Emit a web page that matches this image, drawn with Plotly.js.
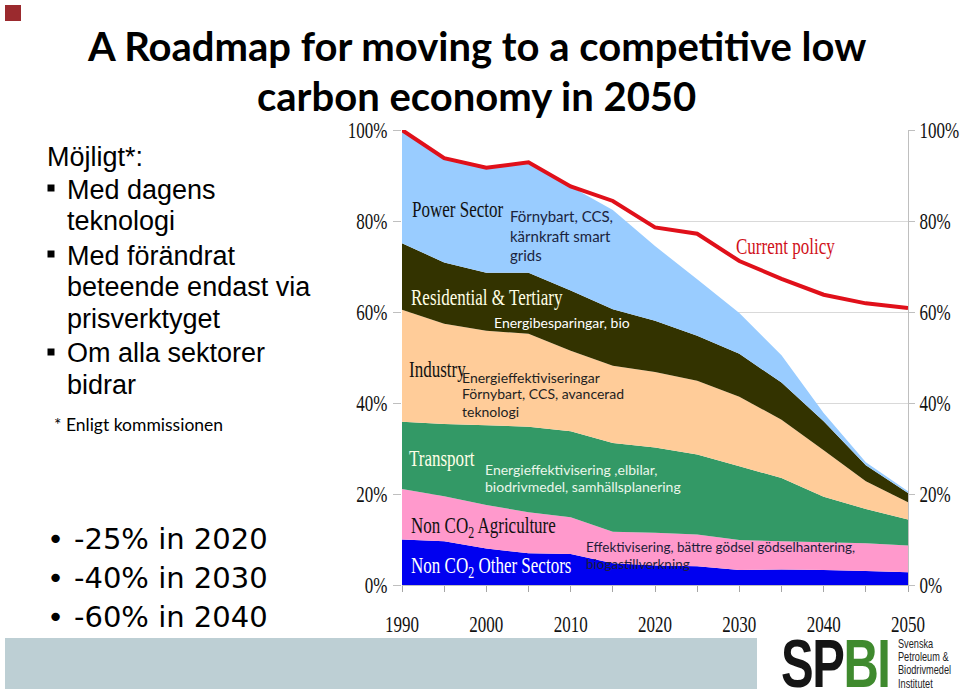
<!DOCTYPE html>
<html>
<head>
<meta charset="utf-8">
<script src="https://cdn.plot.ly/plotly-3.0.1.min.js"></script>
<style>
  html, body { margin:0; padding:0; background:#fff; width:960px; height:691px; overflow:hidden; }
  #chart { position:absolute; left:0; top:0; width:960px; height:691px; }
  #logo { position:absolute; left:781px; top:635px; font-family:'Liberation Sans',Arial,sans-serif; font-weight:bold; font-size:68px; line-height:56px; transform:scaleX(0.72); transform-origin:left top; white-space:nowrap; letter-spacing:-2px; }
  #logo .sp { color:#151515; }
  #logo .bi { color:#3f8a2e; }
  #logotext { position:absolute; left:898px; top:637px; font-family:'Liberation Sans',Arial,sans-serif; font-size:13.5px; line-height:13.2px; color:#222; white-space:nowrap; transform:scaleX(0.68); transform-origin:left top; }
</style>
</head>
<body>
<div id="chart"></div>
<div id="logo"><span class="sp">SP</span><span class="bi">BI</span></div>
<div id="logotext">Svenska<br>Petroleum &amp;<br>Biodrivmedel<br>Institutet</div>
<script>
// ---- data (share of 1990 emissions, %) ----
const years = [1990, 1995, 2000, 2005, 2010, 2015, 2020, 2025, 2030, 2035, 2040, 2045, 2050];
const labelYears = [1990, 2000, 2010, 2020, 2030, 2040, 2050];
const nonCO2Other = [10.0, 9.6, 8.0, 7.0, 6.8, 4.8, 4.3, 4.1, 3.3, 3.4, 3.3, 3.1, 2.8];
const nonCO2Agriculture = [11.1, 9.9, 9.6, 9.0, 8.1, 6.9, 7.2, 7.0, 6.6, 6.2, 6.1, 6.1, 5.9];
const transport = [14.8, 15.9, 17.5, 18.8, 18.9, 19.5, 18.7, 17.6, 16.2, 13.9, 10.0, 7.5, 5.7];
const industry = [24.6, 22.0, 20.8, 20.4, 17.7, 17.0, 16.6, 16.2, 15.3, 12.8, 10.2, 6.1, 3.8];
const residential = [14.6, 13.5, 12.7, 13.4, 13.2, 12.4, 11.3, 9.9, 9.4, 8.2, 6.4, 3.5, 2.0];
const powerSector = [24.9, 22.9, 23.1, 24.3, 22.9, 21.8, 16.4, 12.4, 9.0, 6.0, 1.8, 0.7, 0.4];
const currentPolicy = [100, 93.8, 91.7, 92.9, 87.6, 84.4, 78.6, 77.2, 71.2, 67.3, 63.8, 61.9, 60.9];
const yTicks = [0, 20, 40, 60, 80, 100];
const yTickLabels = ['0%', '20%', '40%', '60%', '80%', '100%'];

// ---- geometry helpers (pixel -> paper) ----
const W = 960, H = 691;
const M = { l: 402, r: 52, t: 130, b: 106 };
const PW = W - M.l - M.r, PH = H - M.t - M.b;
const X = px => (px - M.l) / PW;
const Y = py => (H - M.b - py) / PH;

const serif = 'Liberation Serif, Times New Roman, serif';
const calibri = 'Lato, Carlito, Calibri, sans-serif';
const arial = 'Liberation Sans, Arial, sans-serif';
const tahoma = 'DejaVu Sans, Tahoma, Verdana, sans-serif';

function area(name, y, color) {
  return { x: years, y: y, name: name, type: 'scatter', mode: 'none', stackgroup: 'one',
           fill: 'tonexty', fillcolor: color, hoverinfo: 'skip', showlegend: false };
}

const traces = [
  area('Non CO2 Other Sectors', nonCO2Other, '#0000F0'),
  area('Non CO2 Agriculture', nonCO2Agriculture, '#FF99CC'),
  area('Transport', transport, '#339966'),
  area('Industry', industry, '#FFCC99'),
  area('Residential & Tertiary', residential, '#333300'),
  area('Power Sector', powerSector, '#99CCFF'),
  { x: years, y: currentPolicy, name: 'Current policy', type: 'scatter', mode: 'lines',
    line: { color: '#E0101A', width: 4 }, hoverinfo: 'skip', showlegend: false },
  { x: years, y: currentPolicy, yaxis: 'y2', type: 'scatter', mode: 'lines',
    line: { width: 0 }, opacity: 0, hoverinfo: 'skip', showlegend: false }
];

function ann(text, px, py, opts) {
  return Object.assign({ text: text, xref: 'paper', yref: 'paper', x: X(px), y: Y(py),
    xanchor: 'left', yanchor: 'middle', showarrow: false, align: 'left' }, opts || {});
}
function f(family, size, color, weight) { return { family: family, size: size, color: color, weight: weight || 'normal' }; }

const annotations = [
  // title
  ann('A Roadmap for moving to a competitive low', 476, 46, { xanchor: 'center', font: f(calibri, 40, '#000', 'bold') }),
  ann('carbon economy in 2050', 476, 96, { xanchor: 'center', font: f(calibri, 40, '#000', 'bold') }),
  // left text
  ann('Möjligt*:', 45, 157, { font: f(arial, 27, '#000') }),
  ann('Med dagens', 65, 190, { font: f(arial, 27, '#000') }),
  ann('teknologi', 65, 221, { font: f(arial, 27, '#000') }),
  ann('Med förändrat', 65, 256, { font: f(arial, 27, '#000') }),
  ann('beteende endast via', 65, 287, { font: f(arial, 27, '#000') }),
  ann('prisverktyget', 65, 319, { font: f(arial, 27, '#000') }),
  ann('Om alla sektorer', 65, 353, { font: f(arial, 27, '#000') }),
  ann('bidrar', 65, 385, { font: f(arial, 27, '#000') }),
  ann('* Enligt kommissionen', 52, 425, { font: f(calibri, 17.5, '#000') }),
  // bottom bullets
  ann('•', 45, 539, { font: f(tahoma, 29, '#000') }),
  ann('-25% in 2020', 72, 539, { font: f(tahoma, 29, '#000') }),
  ann('•', 45, 578, { font: f(tahoma, 29, '#000') }),
  ann('-40% in 2030', 72, 578, { font: f(tahoma, 29, '#000') }),
  ann('•', 45, 617, { font: f(tahoma, 29, '#000') }),
  ann('-60% in 2040', 72, 617, { font: f(tahoma, 29, '#000') }),
  // chart labels
  ann('Power Sector', 410, 209, { font: f(serif, 23, '#111') }),
  ann('Förnybart, CCS,', 508, 216, { font: f(calibri, 15, '#1B2440') }),
  ann('kärnkraft smart', 508, 236, { font: f(calibri, 15, '#1B2440') }),
  ann('grids', 508, 255, { font: f(calibri, 15, '#1B2440') }),
  ann('Residential &amp; Tertiary', 409, 297, { font: f(serif, 23, '#FFFFE6') }),
  ann('Energibesparingar, bio', 492, 322, { font: f(calibri, 14, '#FFFFFF') }),
  ann('Industry', 407, 369, { font: f(serif, 23, '#111') }),
  ann('Energieffektiviseringar', 460, 377, { font: f(calibri, 14, '#1E1E1E') }),
  ann('Förnybart, CCS, avancerad', 460, 394, { font: f(calibri, 14, '#1E1E1E') }),
  ann('teknologi', 460, 411, { font: f(calibri, 14, '#1E1E1E') }),
  ann('Transport', 407, 458, { font: f(serif, 23, '#FFFFE6') }),
  ann('Energieffektivisering ,elbilar,', 483, 469, { font: f(calibri, 14, '#EAF6EA') }),
  ann('biodrivmedel, samhällsplanering', 483, 486, { font: f(calibri, 14, '#EAF6EA') }),
  ann('Non CO<sub>2</sub> Agriculture', 409, 527, { font: f(serif, 23, '#111') }),
  ann('Non CO<sub>2</sub> Other Sectors', 409, 567, { font: f(serif, 23, '#FFFFFF') }),
  ann('Effektivisering, bättre gödsel gödselhantering,', 584, 547, { font: f(calibri, 13.5, '#1E1E3A') }),
  ann('biogastillverkning', 584, 564, { font: f(calibri, 13.5, '#1E1E3A') }),
  ann('Current policy', 734, 246, { font: f(serif, 23, '#D0101A') })
];

const shapes = [
  { type: 'rect', xref: 'paper', yref: 'paper', x0: X(5), x1: X(21), y0: Y(5), y1: Y(21),
    fillcolor: '#9B2A2E', line: { width: 0 }, layer: 'above' },
  { type: 'rect', xref: 'paper', yref: 'paper', x0: X(5), x1: X(757), y0: Y(638), y1: Y(689),
    fillcolor: '#BDCFD4', line: { width: 0 }, layer: 'above' }
];
[188, 254, 352].forEach(cy => shapes.push({ type: 'rect', xref: 'paper', yref: 'paper',
  x0: X(47.5), x1: X(54.5), y0: Y(cy - 3.5), y1: Y(cy + 3.5), fillcolor: '#000', line: { width: 0 }, layer: 'above' }));

const tickFont = { family: serif, size: 23, color: '#111' };
const layout = {
  width: W, height: H, autosize: false,
  margin: M,
  paper_bgcolor: '#fff', plot_bgcolor: '#fff',
  showlegend: false,
  xaxis: { range: [1990, 2050], tickmode: 'array', tickvals: labelYears, ticktext: labelYears.map(String),
           ticks: 'outside', ticklen: 6, tickcolor: '#A6A6A6', showline: true, linecolor: '#BFBFBF',
           minor: { tickmode: 'array', tickvals: years, ticks: 'outside', ticklen: 6, tickcolor: '#A6A6A6', showgrid: false },
           showgrid: false, zeroline: false, tickfont: tickFont, ticklabelstandoff: 12, fixedrange: true },
  yaxis: { range: [0, 100], tickmode: 'array', tickvals: yTicks, ticktext: yTickLabels,
           ticks: 'outside', ticklen: 8, tickcolor: '#BFBFBF', showline: false,
           showgrid: true, gridcolor: '#D9D9D9', gridwidth: 1, zeroline: false, tickfont: tickFont,
           ticklabelstandoff: 1, fixedrange: true },
  yaxis2: { range: [0, 100], overlaying: 'y', side: 'right', tickmode: 'array', tickvals: yTicks,
            ticktext: yTickLabels, ticks: 'outside', ticklen: 6, tickcolor: '#BFBFBF', showline: true,
            linecolor: '#BFBFBF', showgrid: false, zeroline: false, tickfont: tickFont,
            ticklabelstandoff: 0, fixedrange: true },
  annotations: annotations,
  shapes: shapes
};

// narrow the Times-style texts, as in the original slide
function condenseSerif(gd, sx) {
  gd.querySelectorAll('text').forEach(t => {
    const ff = t.style.fontFamily || t.getAttribute('font-family') || '';
    if (!/Liberation Serif/.test(ff) || !t.textContent) return;
    const bb = t.getBBox();
    const anchor = t.getAttribute('text-anchor') || t.style.textAnchor || 'start';
    const ax = anchor === 'end' ? bb.x + bb.width : (anchor === 'middle' ? bb.x + bb.width / 2 : bb.x);
    const prev = t.getAttribute('transform') || '';
    t.setAttribute('transform', (prev + ' translate(' + (ax * (1 - sx)) + ',0) scale(' + sx + ',1)').trim());
  });
}

Plotly.newPlot('chart', traces, layout, { displayModeBar: false, staticPlot: true })
  .then(gd => condenseSerif(gd, 0.74));
</script>
</body>
</html>
